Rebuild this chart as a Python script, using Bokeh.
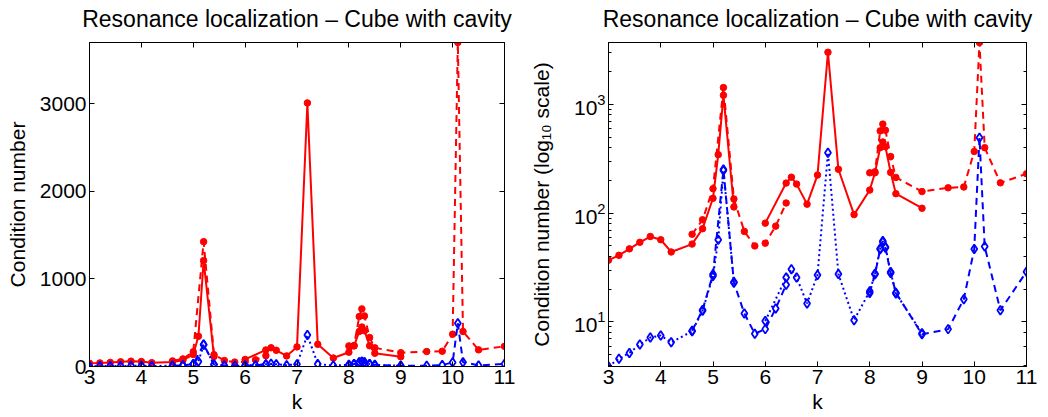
import numpy as np
from bokeh.plotting import figure
from bokeh.layouts import row
from bokeh.models import Range1d, LinearAxis, LogAxis, FixedTicker, CustomJSTickFormatter
from bokeh.embed import file_html
from bokeh.resources import INLINE

nan = float("nan")

# series A (red solid / blue dotted)
k_a = [3.0, 3.2, 3.4, 3.6, 3.8, 4.0, 4.2, 4.6, 4.8, 5.0, 5.1, 5.2, 5.4, 5.7,
       6.0, 6.4, 6.5, 6.6, 6.8, 7.0, 7.2, 7.4, 7.7,
       8.0, 8.1, 8.2, 8.25, 8.3, 8.4, 8.5, 9.0]
red_a = [37, 41, 47, 54, 61, 57, 44, 52, 72, 137, 345, 1210, 114, nan,
         81, 189, 214, 185, 121, 224, 3010, 253, 97,
         163, 235, 400, 451, 408, 237, 151, 111]
blue_a = [3.9, 4.6, 5.2, 6.2, 7.2, 7.5, 6.5, 8.2, 12.7, 26.5, 57, 247, 23.3, nan,
          10.2, 25.7, 30.5, 25.7, 14.8, 27, 359, 27.6, 10.4,
          19.2, 27.8, 47.3, 54.3, 49, 28.8, 18.3, 7.9]

# series B (red dashed / blue dashed)
k_b = [4.6, 4.8, 5.0, 5.2, 5.4, 5.6, 5.8, 6.0, 6.2, 6.4, 7.2,
       8.0, 8.1, 8.2, 8.25, 8.3, 8.4, 8.5, 9.0,
       9.5, 9.8, 10.0, 10.1, 10.2, 10.5, 11.0]
red_b = [64, 87, 168, 1426, 135, 68, 50, 53, 76, 124, nan,
         235, 240, 570, 658, 578, 331, 213, 158,
         171, 174, 369, 3700, 400, 190, 230]
blue_b = [8.3, 12.9, 27.5, 252, 23.0, 12, 7.8, 8.6, 13.3, 22, nan,
          18.5, 27.5, 46.5, 55.5, 48, 28.2, 18.6, 7.7,
          8.6, 16.2, 46.9, 494, 49.3, 12.8, 29]

x_ticks = [3, 4, 5, 6, 7, 8, 9, 10, 11]
lin_y_ticks = [0, 1000, 2000, 3000]
title_text = "Resonance localization \u2013 Cube with cavity"

FONT = "Liberation Sans"
RED = "#ff0000"
BLUE = "#0000ff"

all_vals = np.array(red_a + blue_a + red_b + blue_b, dtype=float)
vmin = np.nanmin(all_vals)
vmax = np.nanmax(all_vals)


def style_axis(ax, labels=True, minor=0, label_standoff=0, label_size="21px"):
    ax.major_tick_in = 5
    ax.major_tick_out = 0
    ax.minor_tick_in = minor
    ax.minor_tick_out = 0
    ax.axis_line_color = "black"
    ax.major_tick_line_color = "black"
    ax.minor_tick_line_color = "black"
    ax.major_label_text_font = FONT
    if labels:
        ax.major_label_text_color = "black"
        ax.major_label_text_font_size = "21px"
        ax.major_label_standoff = 3
    else:
        ax.formatter = CustomJSTickFormatter(code="return ''")
        ax.major_label_text_color = None
        ax.major_label_text_font_size = "1px"
        ax.major_label_standoff = 0
    ax.axis_label_text_font = FONT
    ax.axis_label_text_font_size = label_size
    ax.axis_label_text_font_style = "normal"
    ax.axis_label_text_color = "black"
    ax.axis_label_standoff = label_standoff


def make(log):
    if log:
        p = figure(width=520, height=416, x_range=Range1d(3, 11),
                   y_range=Range1d(vmin, vmax), y_axis_type="log",
                   output_backend="svg", toolbar_location=None,
                   min_border_left=88, min_border_right=14,
                   min_border_top=42, min_border_bottom=50)
    else:
        p = figure(width=520, height=416, x_range=Range1d(3, 11),
                   y_range=Range1d(0, vmax),
                   output_backend="svg", toolbar_location=None,
                   min_border_left=89, min_border_right=16,
                   min_border_top=42, min_border_bottom=50)
    p.grid.visible = False
    p.outline_line_color = "black"
    p.outline_line_width = 1
    p.background_fill_color = "white"
    p.border_fill_color = "white"

    p.xaxis.ticker = FixedTicker(ticks=x_ticks)
    p.xaxis.axis_label = "k"
    style_axis(p.xaxis[0], label_standoff=3)
    if log:
        style_axis(p.yaxis[0], minor=3, label_standoff=18)
        p.yaxis.axis_label = "Condition number (log\u2081\u2080 scale)"
    else:
        style_axis(p.yaxis[0], label_standoff=8)
        p.yaxis.ticker = FixedTicker(ticks=lin_y_ticks)
        p.yaxis.axis_label = "Condition number"

    # top box axis carries the plot title as its label
    top = LinearAxis(ticker=FixedTicker(ticks=x_ticks), axis_label=title_text)
    style_axis(top, labels=False, label_standoff=11, label_size="23px")
    p.add_layout(top, "above")
    if log:
        right = LogAxis()
    else:
        right = LinearAxis(ticker=FixedTicker(ticks=lin_y_ticks))
    style_axis(right, labels=False, minor=3 if log else 0)
    p.add_layout(right, "right")

    # red solid
    p.line(k_a, red_a, line_color=RED, line_width=2)
    p.scatter(k_a, red_a, marker="circle", size=6.5, fill_color=RED, line_color=RED)
    # red dashed
    p.line(k_b, red_b, line_color=RED, line_width=2, line_dash="7 5")
    p.scatter(k_b, red_b, marker="circle", size=6.5, fill_color=RED, line_color=RED)
    # blue dotted
    p.line(k_a, blue_a, line_color=BLUE, line_width=2, line_dash="2 3")
    p.scatter(k_a, blue_a, marker="diamond", size=9, fill_color=None,
              line_color=BLUE, line_width=1.8)
    # blue dashed
    p.line(k_b, blue_b, line_color=BLUE, line_width=2, line_dash="7 5")
    p.scatter(k_b, blue_b, marker="diamond", size=9, fill_color=None,
              line_color=BLUE, line_width=1.8)
    return p


p1 = make(False)
p2 = make(True)
layout = row(p1, p2)
open("out.html", "w").write(file_html(layout, INLINE))
